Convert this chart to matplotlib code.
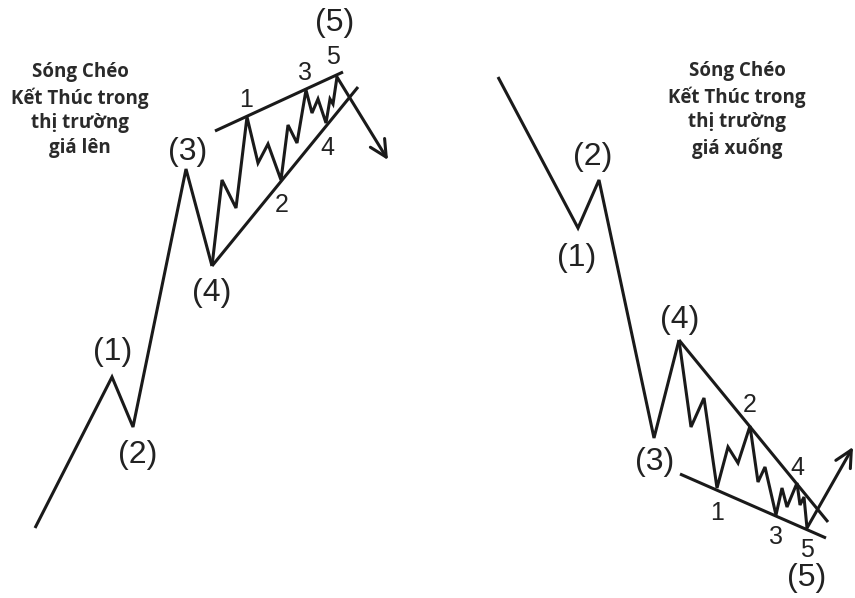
import matplotlib.pyplot as plt

# Song cheo ket thuc - thi truong gia len (toa do theo pixel cua hinh goc)
up_main_x = [35, 112, 133, 186, 212]
up_main_y = [528, 377, 427, 169, 266]
up_diag_x = [212, 222, 236, 247, 258, 268, 281, 288, 297, 306, 312, 318, 326, 330, 333, 337]
up_diag_y = [266, 180, 208, 117, 163, 144, 180, 125, 143, 90, 113, 99, 123, 99, 104, 77]
up_top_line = ([215, 343], [131, 72])
up_low_line = ([212, 358], [266, 87])
up_arrow = ((337, 77), (388, 160))

# Song cheo ket thuc - thi truong gia xuong
dn_main_x = [498, 578, 599, 654, 679]
dn_main_y = [77, 228, 180, 438, 340]
dn_diag_x = [679, 691, 704, 717, 728, 738, 750, 758, 765, 776, 782, 787, 797, 800, 804, 807]
dn_diag_y = [340, 427, 398, 488, 447, 463, 426, 482, 467, 515, 488, 507, 483, 505, 497, 528]
dn_top_line = ([679, 828], [340, 522])
dn_low_line = ([680, 826], [474, 538])
dn_arrow = ((807, 528), (853, 447))

# Nhan
up_labels = ['(1)', '(2)', '(3)', '(4)', '(5)', '1', '2', '3', '4', '5']
up_label_pos = [(113, 352), (138, 455), (188, 152), (212, 293), (335, 23),
                (246, 100), (282, 205), (305, 73), (327, 148), (333, 57)]
dn_labels = ['(1)', '(2)', '(3)', '(4)', '(5)', '1', '2', '3', '4', '5']
dn_label_pos = [(577, 258), (593, 157), (655, 462), (680, 320), (807, 578),
                (717, 513), (750, 405), (776, 537), (797, 468), (807, 550)]

title_up = "Sóng Chéo\nKết Thúc trong\nthị trường\ngiá lên"
title_dn = "Sóng Chéo\nKết Thúc trong\nthị trường\ngiá xuống"

fig = plt.figure(figsize=(8.55, 5.98), dpi=100)
ax = fig.add_axes([0, 0, 1, 1])
ax.set_xlim(0, 855)
ax.set_ylim(598, 0)
ax.axis('off')

lc = '#1a1a1a'
lw = 2.2

for xs, ys in [(up_main_x, up_main_y), (up_diag_x, up_diag_y),
               (dn_main_x, dn_main_y), (dn_diag_x, dn_diag_y),
               up_top_line, up_low_line, dn_top_line, dn_low_line]:
    ax.plot(xs, ys, color=lc, lw=lw, solid_joinstyle='miter', solid_capstyle='butt')

for start, end in [up_arrow, dn_arrow]:
    ax.annotate('', xy=end, xytext=start,
                arrowprops=dict(arrowstyle='->,head_length=1.2,head_width=0.6',
                                color=lc, lw=lw, shrinkA=0, shrinkB=0))

for labels, positions in [(up_labels, up_label_pos), (dn_labels, dn_label_pos)]:
    for lab, (x, y) in zip(labels, positions):
        fs = 23 if lab.startswith('(') else 18
        ax.text(x, y, lab, ha='center', va='center', fontsize=fs,
                family='Liberation Sans', color='#222222')

ax.text(80, 110, title_up, ha='center', va='center', fontsize=13.5, fontweight='bold',
        family='Open Sans', color='#2a2a2a', linespacing=1.3)
ax.text(737, 110, title_dn, ha='center', va='center', fontsize=13.5, fontweight='bold',
        family='Open Sans', color='#2a2a2a', linespacing=1.3)

fig.savefig('out.png', dpi=100)
